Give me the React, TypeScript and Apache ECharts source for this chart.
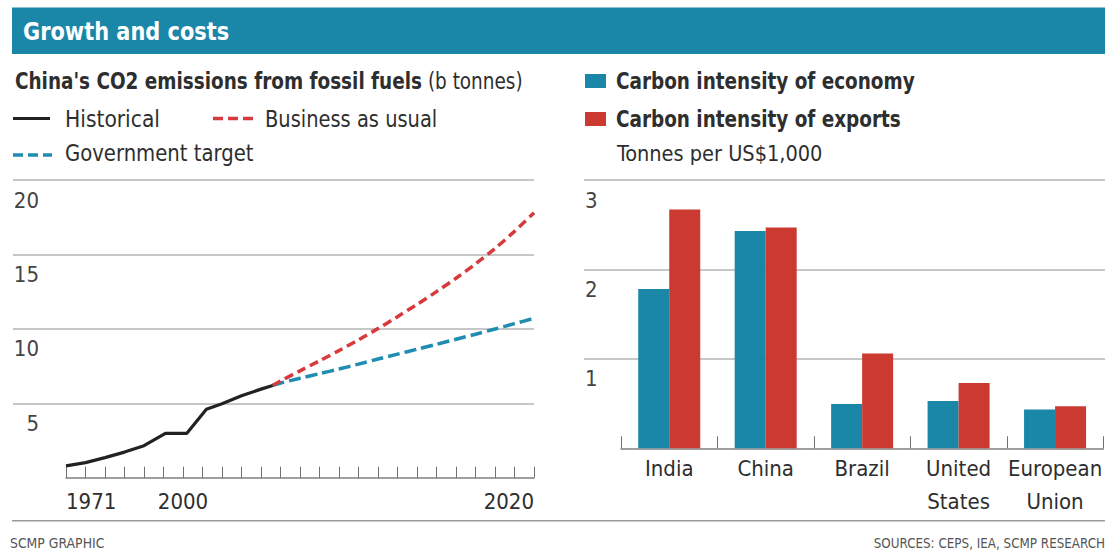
import React, { useEffect, useRef } from "react";
import * as echarts from "echarts";

// ---------- data ----------
const X_TICK_LABELS: string[] = [
  "1971", "", "", "", "", "", "2000", "", "", "", "", "", "",
  "", "", "", "", "", "", "", "", "", "", "", "2020",
];
// [tick position, b tonnes]
const HISTORICAL: [number, number][] = [
  [0, 0.79], [1, 1.01], [2, 1.35], [3, 1.72], [4, 2.15], [5.1, 2.98],
  [6.2, 2.98], [7.2, 4.6], [8, 4.97], [9, 5.5], [10, 5.95], [10.6, 6.2],
];
const BUSINESS_AS_USUAL: [number, number][] = [
  [10.6, 6.2], [11, 6.5], [12, 7.18], [13, 7.85], [14, 8.54], [15, 9.26],
  [16, 10.02], [17, 10.82], [18, 11.64], [19, 12.5], [20, 13.4], [21, 14.36],
  [22, 15.4], [23, 16.55], [24, 17.8],
];
const GOVERNMENT_TARGET: [number, number][] = [
  [10.6, 6.2], [11, 6.36], [12, 6.68], [13, 6.99], [14, 7.3], [15, 7.63],
  [16, 7.97], [17, 8.3], [18, 8.63], [19, 8.96], [20, 9.3], [21, 9.64],
  [22, 9.99], [23, 10.35], [24, 10.71],
];
const LINE_Y_TICKS = { min: 0, max: 20, interval: 5 };

const COUNTRIES: string[] = ["India", "China", "Brazil", "United\nStates", "European\nUnion"];
const INTENSITY_ECONOMY: number[] = [1.78, 2.43, 0.495, 0.53, 0.435];
const INTENSITY_EXPORTS: number[] = [2.67, 2.47, 1.06, 0.73, 0.47];
const BAR_Y_TICKS = { min: 0, max: 3, interval: 1 };

// ---------- styles ----------
const FONT = "'DejaVu Sans Condensed', 'Liberation Sans Narrow', sans-serif";
const TEAL = "#1b87a8";
const BLUE = "#1b87a8";
const RED = "#cb3a30";
const RED_LINE = "#d63a3c";
const BLUE_LINE = "#1f8cb2";
const TEXT = "#2e2e2e";
const GRID = "#b4b4b4";

function txt(
  x: number,
  y: number,
  text: string,
  size: number,
  weight: string,
  fill: string,
  align = "left",
  scaleX = 1
) {
  return {
    type: "text",
    x,
    y,
    scaleX,
    style: {
      text,
      fontSize: size,
      fontWeight: weight,
      fontFamily: FONT,
      fill,
      align,
      textAlign: align,
      verticalAlign: "middle",
      textVerticalAlign: "middle",
    },
  };
}

export default function App() {
  const ref = useRef<HTMLDivElement>(null);

  useEffect(() => {
    if (!ref.current) return;
    const chart = echarts.init(ref.current, undefined, { renderer: "svg" });

    const yLabelBase = {
      inside: true,
      verticalAlign: "top",
      padding: [9, 0, 0, 0],
      fontSize: 22,
      color: "#444",
      fontFamily: FONT,
      formatter: (v: number) => (v === 0 ? "" : String(v)),
    };

    const option: any = {
      animation: false,
      backgroundColor: "#ffffff",
      grid: [
        { left: 13, right: 571, top: 180, bottom: 75.3 },
        { left: 66, right: 571, top: 180, bottom: 75.3 },
        { left: 584, right: 0, top: 180, bottom: 104.7 },
        { left: 621, right: 0, top: 180, bottom: 104.7 },
      ],
      xAxis: [
        { gridIndex: 0, type: "value", min: 0, max: 1, show: false },
        {
          gridIndex: 1,
          type: "value",
          min: 0,
          max: X_TICK_LABELS.length - 1,
          interval: 1,
          axisLine: { show: true, onZero: false, lineStyle: { color: "#808080", width: 1.5 } },
          axisTick: { show: true, inside: true, length: 11, lineStyle: { color: "#707070", width: 1 } },
          splitLine: { show: false },
          axisLabel: {
            formatter: (v: number) => X_TICK_LABELS[Math.round(v)] ?? "",
            fontSize: 22,
            color: TEXT,
            margin: 13,
            fontFamily: FONT,
            showMinLabel: true,
            showMaxLabel: true,
            alignMinLabel: "left",
            alignMaxLabel: "right",
          },
        },
        { gridIndex: 2, type: "value", min: 0, max: 1, show: false },
        {
          gridIndex: 3,
          type: "category",
          data: COUNTRIES,
          axisLine: { show: true, lineStyle: { color: "#808080", width: 1.5 } },
          axisTick: { show: true, inside: true, length: 12, lineStyle: { color: "#707070", width: 1 } },
          axisLabel: { fontSize: 22, lineHeight: 33, color: TEXT, margin: 4, interval: 0, fontFamily: FONT },
        },
      ],
      yAxis: [
        {
          gridIndex: 0,
          type: "value",
          ...LINE_Y_TICKS,
          axisLine: { show: false },
          axisTick: { show: false },
          splitLine: { show: true, showMinLine: false, lineStyle: { color: GRID, width: 1.5 } },
          axisLabel: { ...yLabelBase, align: "right", margin: 26 },
        },
        { gridIndex: 1, type: "value", ...LINE_Y_TICKS, show: false },
        {
          gridIndex: 2,
          type: "value",
          ...BAR_Y_TICKS,
          axisLine: { show: false },
          axisTick: { show: false },
          splitLine: { show: true, showMinLine: false, lineStyle: { color: GRID, width: 1.5 } },
          axisLabel: { ...yLabelBase, align: "left", margin: 1 },
        },
        { gridIndex: 3, type: "value", ...BAR_Y_TICKS, show: false },
      ],
      series: [
        {
          name: "Government target",
          type: "line",
          xAxisIndex: 1,
          yAxisIndex: 1,
          data: GOVERNMENT_TARGET,
          symbol: "none",
          smooth: 0.3,
          lineStyle: { color: BLUE_LINE, width: 3.5, type: [12, 5] },
          z: 2,
        },
        {
          name: "Business as usual",
          type: "line",
          xAxisIndex: 1,
          yAxisIndex: 1,
          data: BUSINESS_AS_USUAL,
          symbol: "none",
          smooth: 0.3,
          lineStyle: { color: RED_LINE, width: 3.5, type: [9, 5] },
          z: 2,
        },
        {
          name: "Historical",
          type: "line",
          xAxisIndex: 1,
          yAxisIndex: 1,
          data: HISTORICAL,
          symbol: "none",
          lineStyle: { color: "#222", width: 3.2 },
          z: 3,
        },
        {
          name: "Carbon intensity of economy",
          type: "bar",
          xAxisIndex: 3,
          yAxisIndex: 3,
          data: INTENSITY_ECONOMY,
          barWidth: 31,
          barGap: "0%",
          itemStyle: { color: BLUE },
        },
        {
          name: "Carbon intensity of exports",
          type: "bar",
          xAxisIndex: 3,
          yAxisIndex: 3,
          data: INTENSITY_EXPORTS,
          barWidth: 31,
          barGap: "0%",
          itemStyle: { color: RED },
        },
      ],
      graphic: [
        { type: "rect", shape: { x: 12, y: 7.5, width: 1093, height: 46.5 }, style: { fill: TEAL } },
        txt(23, 31.5, "Growth and costs", 25, "bold", "#ffffff", "left", 0.93),
        {
          type: "text",
          x: 15,
          y: 81.5,
          scaleX: 0.89,
          style: {
            text: "{b|China's CO2 emissions from fossil fuels} {n|(b tonnes)}",
            fontFamily: FONT,
            fontSize: 23,
            fill: TEXT,
            verticalAlign: "middle",
            textVerticalAlign: "middle",
            rich: {
              b: { fontWeight: "bold", fontSize: 23, fontFamily: FONT, fill: TEXT },
              n: { fontWeight: "normal", fontSize: 23, fontFamily: FONT, fill: TEXT },
            },
          },
        },
        { type: "line", shape: { x1: 13, y1: 118.5, x2: 50, y2: 118.5 }, style: { stroke: "#222", lineWidth: 3.2 } },
        txt(65, 119, "Historical", 23, "normal", TEXT, "left", 0.98),
        {
          type: "line",
          shape: { x1: 213, y1: 118.5, x2: 253, y2: 118.5 },
          style: { stroke: RED_LINE, lineWidth: 3.5, lineDash: [10, 5] },
        },
        txt(265, 119, "Business as usual", 23, "normal", TEXT, "left", 0.94),
        {
          type: "line",
          shape: { x1: 13, y1: 155, x2: 52, y2: 155 },
          style: { stroke: BLUE_LINE, lineWidth: 3.5, lineDash: [10, 5] },
        },
        txt(65, 153, "Government target", 23, "normal", TEXT, "left", 0.95),
        { type: "rect", shape: { x: 585, y: 74, width: 21, height: 14 }, style: { fill: BLUE } },
        txt(616, 81, "Carbon intensity of economy", 23, "bold", TEXT, "left", 0.89),
        { type: "rect", shape: { x: 585, y: 112, width: 21, height: 14 }, style: { fill: RED } },
        txt(616, 119, "Carbon intensity of exports", 23, "bold", TEXT, "left", 0.89),
        txt(617, 153, "Tonnes per US$1,000", 22, "normal", TEXT, "left", 0.98),
        { type: "line", shape: { x1: 12, y1: 520.7, x2: 1105, y2: 520.7 }, style: { stroke: "#9a9a9a", lineWidth: 1.5 } },
        txt(10, 543, "SCMP GRAPHIC", 14, "normal", "#555", "left", 0.99),
        txt(1105, 543, "SOURCES: CEPS, IEA, SCMP RESEARCH", 14, "normal", "#555", "right", 0.95),
      ],
    };

    chart.setOption(option);
    return () => chart.dispose();
  }, []);

  return (
    <div
      ref={ref}
      style={{ position: "fixed", left: 0, top: 0, width: 1105, height: 553, background: "#fff" }}
    />
  );
}
